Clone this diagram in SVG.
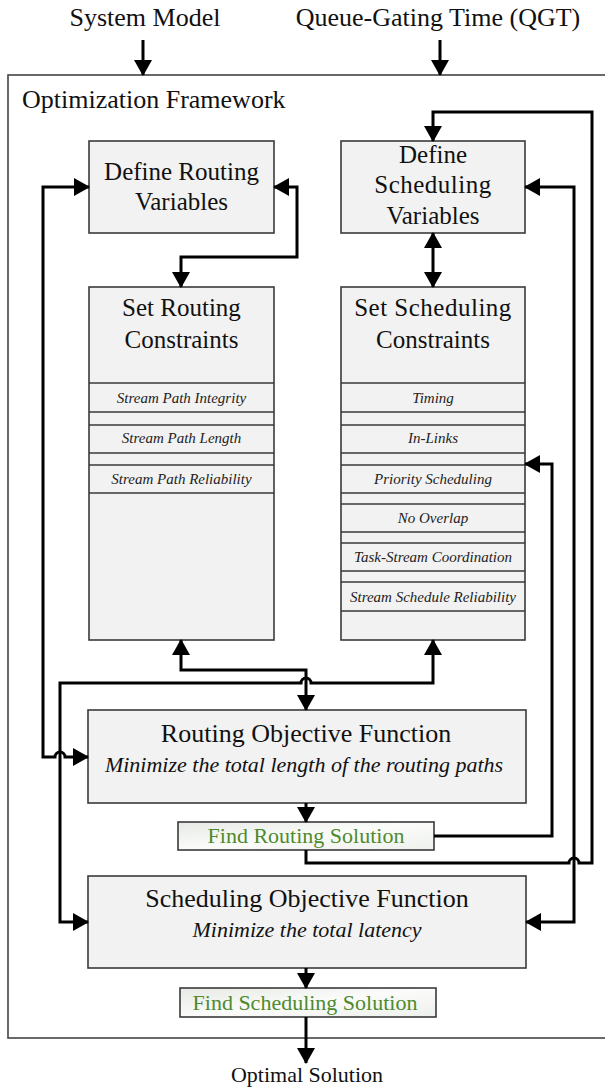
<svg xmlns="http://www.w3.org/2000/svg" width="605" height="1087" viewBox="0 0 605 1087">
<defs>
<marker id="ah" markerUnits="userSpaceOnUse" markerWidth="16" markerHeight="18" refX="15" refY="9" orient="auto-start-reverse" viewBox="0 0 16 18">
<path d="M0,0 L16,9 L0,18 z" fill="#000"/>
</marker>
<linearGradient id="gfind" x1="0" y1="0" x2="1" y2="1">
<stop offset="0" stop-color="#e6e9e4"/>
<stop offset="0.5" stop-color="#fbfcfa"/>
<stop offset="1" stop-color="#eef0ec"/>
</linearGradient>
</defs>
<style>
.t{font-family:"Liberation Serif","Times New Roman",serif;fill:#111;text-anchor:middle}
.box{fill:#f2f2f2;stroke:#3a3a3a;stroke-width:1.6}
.row{fill:none;stroke:#3a3a3a;stroke-width:1.6}
.it{font-family:"Liberation Serif","Times New Roman",serif;font-style:italic;fill:#222;text-anchor:middle;font-size:15px}
.find{fill:url(#gfind);stroke:#3a3a3a;stroke-width:1.6}
.g{font-family:"Liberation Serif","Times New Roman",serif;fill:#4e8a2e;text-anchor:middle;font-size:22px}
.c{fill:none;stroke:#000;stroke-width:3}
.a2{marker-start:url(#ah);marker-end:url(#ah)}
.a1{marker-end:url(#ah)}
</style>
<rect width="605" height="1087" fill="#fff"/>

<text class="t" x="145" y="26" font-size="26">System Model</text>
<text class="t" x="438" y="26" font-size="26">Queue-Gating Time (QGT)</text>

<g id="frame">
<rect x="8" y="75" width="600" height="963" fill="none" stroke="#444" stroke-width="1.6"/>
<text x="22" y="108" font-family="Liberation Serif, Times New Roman, serif" font-size="26" fill="#111">Optimization Framework</text>
</g>

<g id="define-routing">
<rect class="box" x="89" y="141" width="185" height="92"/>
<text class="t" x="181.5" y="180" font-size="25">Define Routing</text>
<text class="t" x="181.5" y="210" font-size="25">Variables</text>
</g>

<g id="define-scheduling">
<rect class="box" x="341" y="141" width="184" height="92"/>
<text class="t" x="433" y="163" font-size="25">Define</text>
<text class="t" x="433" y="193" font-size="25" letter-spacing="0.5">Scheduling</text>
<text class="t" x="433" y="224" font-size="25">Variables</text>
</g>

<g id="set-routing">
<rect class="box" x="89" y="287" width="185" height="353"/>
<text class="t" x="181.5" y="316" font-size="25">Set Routing</text>
<text class="t" x="181.5" y="348" font-size="25">Constraints</text>
<path class="row" d="M89,383H274M89,412H274M89,425H274M89,453H274M89,465H274M89,493H274"/>
<text class="it" x="181.5" y="403">Stream Path Integrity</text>
<text class="it" x="181.5" y="443">Stream Path Length</text>
<text class="it" x="181.5" y="484">Stream Path Reliability</text>
</g>

<g id="set-scheduling">
<rect class="box" x="341" y="287" width="184" height="353"/>
<text class="t" x="433" y="316" font-size="25" letter-spacing="0.5">Set Scheduling</text>
<text class="t" x="433" y="348" font-size="25">Constraints</text>
<path class="row" d="M341,383H525M341,412H525M341,425H525M341,453H525M341,465H525M341,493H525M341,504H525M341,532H525M341,543H525M341,571H525M341,582H525M341,611H525"/>
<text class="it" x="433" y="403">Timing</text>
<text class="it" x="433" y="443">In-Links</text>
<text class="it" x="433" y="484">Priority Scheduling</text>
<text class="it" x="433" y="523">No Overlap</text>
<text class="it" x="433" y="562">Task-Stream Coordination</text>
<text class="it" x="433" y="602">Stream Schedule Reliability</text>
</g>

<g id="routing-objective">
<rect class="box" x="88" y="710" width="438" height="93"/>
<text class="t" x="306" y="742" font-size="26">Routing Objective Function</text>
<text class="t" x="304" y="772" font-size="22" font-style="italic">Minimize the total length of the routing paths</text>
</g>

<g id="find-routing">
<rect class="find" x="178" y="822" width="256" height="28"/>
<text class="g" x="306" y="843">Find Routing Solution</text>
</g>

<g id="scheduling-objective">
<rect class="box" x="88" y="876" width="438" height="92"/>
<text class="t" x="307" y="907" font-size="26">Scheduling Objective Function</text>
<text class="t" x="307" y="937" font-size="22" font-style="italic">Minimize the total latency</text>
</g>

<g id="find-scheduling">
<rect class="find" x="180" y="988" width="256" height="29"/>
<text class="g" x="305" y="1010">Find Scheduling Solution</text>
</g>

<text class="t" x="307" y="1082" font-size="22">Optimal Solution</text>

<g id="connectors">
<path class="c a1" d="M143,40V75"/>
<path class="c a1" d="M440,40V75"/>
<path class="c a2" d="M89,187H43V757H55A5,5 0 0 1 65,757H88"/>
<path class="c a2" d="M274,187H297V257H181V287"/>
<path class="c a2" d="M433,233V287"/>
<path class="c a2" d="M181,640V670H306V710"/>
<path class="c a2" d="M433,640V683H311A5,5 0 0 0 301,683H60V922H88"/>
<path class="c a1" d="M306,803V822"/>
<path class="c a1" d="M434,836H552V464H525"/>
<path class="c a1" d="M306,850V863H569A5,5 0 0 1 579,863H592V112H433V141"/>
<path class="c a2" d="M526,922H574V187H525"/>
<path class="c a1" d="M306,968V988"/>
<path class="c a1" d="M306,1017V1063"/>
</g>
</svg>
